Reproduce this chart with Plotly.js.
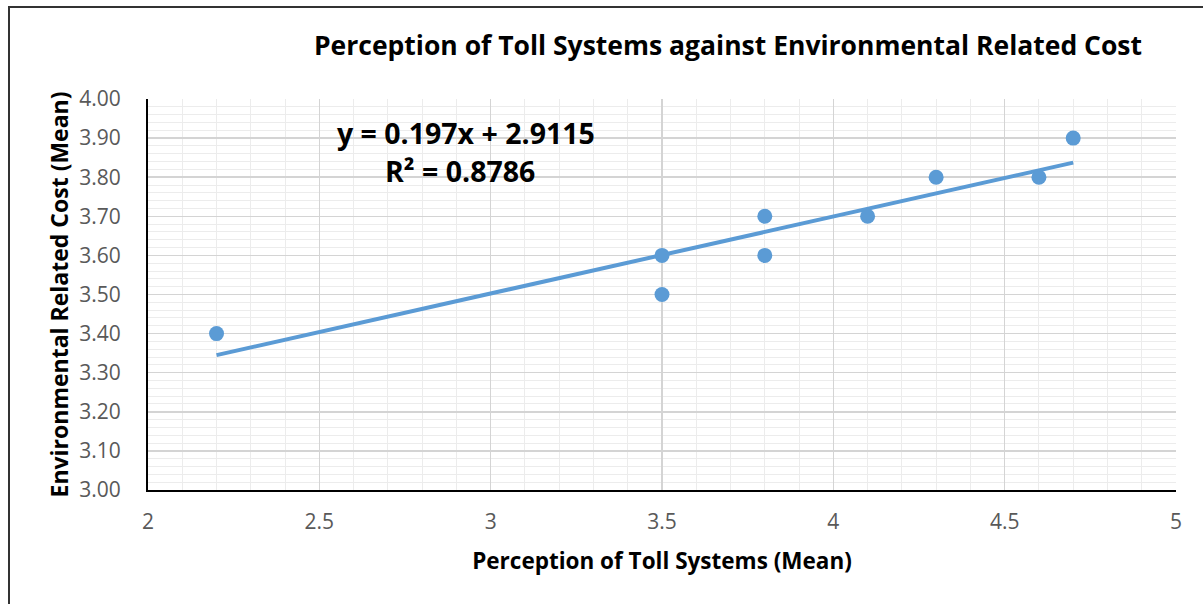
<!DOCTYPE html>
<html>
<head>
<meta charset="utf-8">
<script src="https://cdn.plot.ly/plotly-3.0.1.min.js"></script>
<style>
html,body{margin:0;padding:0;background:#fff;overflow:hidden;}
#chart{width:1203px;height:604px;position:absolute;left:0;top:0;}
#frame{position:absolute;left:8px;top:6px;width:1220px;height:620px;border:2px solid #333;box-sizing:border-box;pointer-events:none;}
</style>
</head>
<body>
<div id="chart"></div>
<div id="frame"></div>
<script>
// Data
const tollPerception = [2.2, 3.5, 3.5, 3.8, 3.8, 4.1, 4.3, 4.6, 4.7];
const envCost        = [3.4, 3.6, 3.5, 3.7, 3.6, 3.7, 3.8, 3.8, 3.9];
const trendSlope = 0.197;
const trendIntercept = 2.9115;
const rSquared = 0.8786;
const xTickVals = [2, 2.5, 3, 3.5, 4, 4.5, 5];
const xTickText = ["2", "2.5", "3", "3.5", "4", "4.5", "5"];
const yTickVals = [3.0, 3.1, 3.2, 3.3, 3.4, 3.5, 3.6, 3.7, 3.8, 3.9, 4.0];
const yTickText = ["3.00","3.10","3.20","3.30","3.40","3.50","3.60","3.70","3.80","3.90","4.00"];

const xMin = Math.min(...tollPerception), xMax = Math.max(...tollPerception);
const trendX = [xMin, xMax];
const trendY = trendX.map(v => trendSlope * v + trendIntercept);

const blue = '#5b9bd5';
const font = '"Open Sans", sans-serif';

const traces = [
  {x: trendX, y: trendY, mode: 'lines', type: 'scatter',
   line: {color: blue, width: 4}, hoverinfo: 'skip'},
  {x: tollPerception, y: envCost, mode: 'markers', type: 'scatter',
   marker: {color: blue, size: 15}}
];

const layout = {
  width: 1203, height: 604,
  margin: {l: 148, r: 27, t: 99, b: 114},
  paper_bgcolor: '#fff', plot_bgcolor: '#fff',
  showlegend: false,
  font: {family: font, color: '#595959'},
  title: {text: 'Perception of Toll Systems against Environmental Related Cost',
          font: {family: font, size: 26.5, color: '#000', weight: 'bold'},
          x: 728/1203, xanchor: 'center', xref: 'container',
          y: 1 - 46/604, yanchor: 'middle', yref: 'container'},
  xaxis: {
    range: [2, 5], tickvals: xTickVals, ticktext: xTickText,
    showline: true, linecolor: '#000', linewidth: 2,
    showgrid: true, gridcolor: '#d4d4d4', gridwidth: 1.5,
    minor: {dtick: 0.1, showgrid: true, gridcolor: '#ececec', gridwidth: 1},
    zeroline: false, ticks: '', ticklabelstandoff: 12,
    tickfont: {size: 21, color: '#595959'},
    title: {text: 'Perception of Toll Systems (Mean)', standoff: 19,
            font: {size: 22.5, color: '#000', weight: 'bold'}}
  },
  yaxis: {
    range: [3, 4], tickvals: yTickVals, ticktext: yTickText,
    showline: true, linecolor: '#000', linewidth: 2,
    showgrid: true, gridcolor: '#d4d4d4', gridwidth: 1.5,
    minor: {dtick: 0.02, showgrid: true, gridcolor: '#ececec', gridwidth: 1},
    zeroline: false, ticks: '', ticklabelstandoff: 21,
    tickfont: {size: 21, color: '#595959'},
    title: {text: 'Environmental Related Cost (Mean)', standoff: 4,
            font: {size: 23, color: '#000', weight: 'bold'}}
  },
  annotations: [
    {xref: 'paper', yref: 'paper', x: (466-148)/1028, y: (490-133)/391,
     text: 'y = ' + trendSlope + 'x + ' + trendIntercept, showarrow: false,
     xanchor: 'center', yanchor: 'middle',
     font: {family: font, size: 28.5, color: '#000', weight: 'bold'}},
    {xref: 'paper', yref: 'paper', x: (460-148)/1028, y: (490-171)/391,
     text: 'R² = ' + rSquared, showarrow: false,
     xanchor: 'center', yanchor: 'middle',
     font: {family: font, size: 28.5, color: '#000', weight: 'bold'}}
  ]
};

Plotly.newPlot('chart', traces, layout, {displayModeBar: false, staticPlot: true});
</script>
</body>
</html>
